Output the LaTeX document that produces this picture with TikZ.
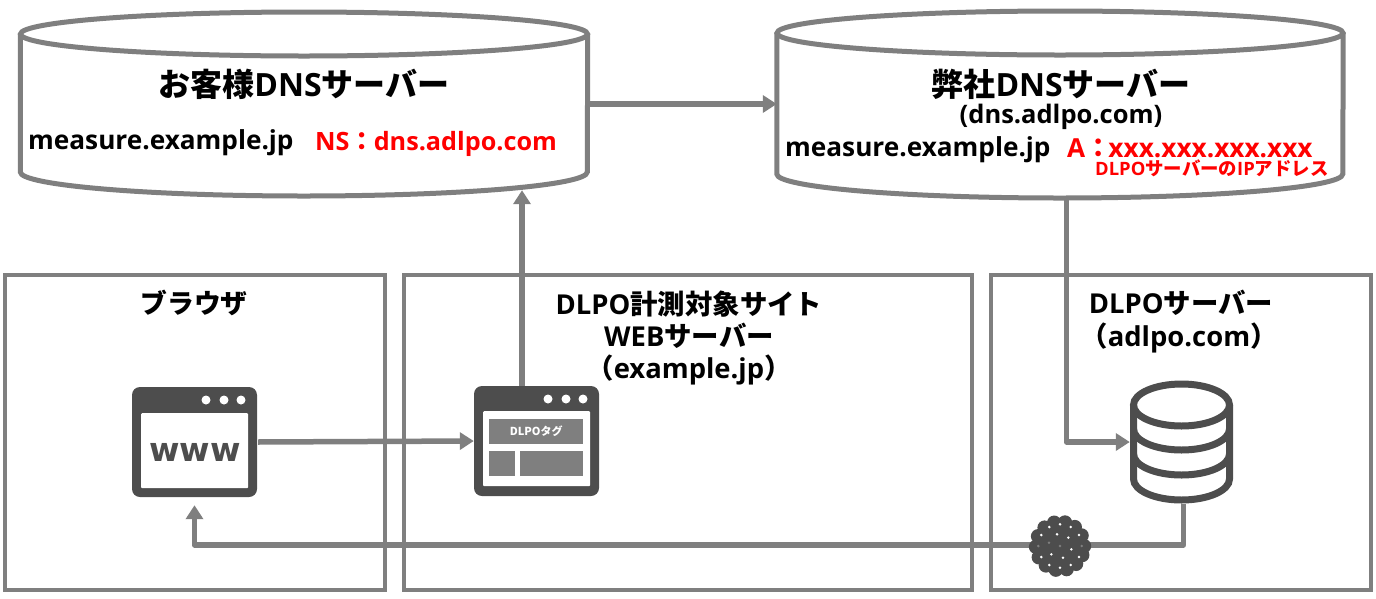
\documentclass[tikz,border=0pt]{standalone}
\usepackage{fontspec}
\setmainfont{Open Sans}
\newfontfamily\jpf{Noto Sans CJK JP}
\newfontfamily\djv{DejaVu Sans}
\usetikzlibrary{arrows.meta,calc}
\definecolor{line}{HTML}{7F7F7F}
\definecolor{dark}{HTML}{4D4D4D}
\definecolor{redtxt}{HTML}{FF0000}
\newcommand{\J}[1]{{\jpf\bfseries #1}}
\newcommand{\fs}[1]{\fontsize{#1}{#1}\selectfont\bfseries}
\tikzset{
  x=1pt,y=-1pt,
  conn/.style={draw=line,line width=5.5pt,line join=round},
  arr/.style={conn,-{Triangle[length=14pt,width=17pt]}},
  boxn/.style={draw=line,line width=4pt,inner sep=0pt,anchor=north west},
  win/.style={fill=dark,rounded corners=8pt,inner sep=0pt,minimum width=125pt,minimum height=110pt},
  pane/.style={fill=white,inner sep=0pt,rounded corners=1pt,anchor=north west},
  wdot/.style={circle,fill=white,inner sep=0pt,minimum size=9pt},
  band/.style={fill=line,inner sep=0pt,anchor=north west},
  cyl/.style={draw=line,line width=5pt,fill=white},
  txt/.style={inner sep=0pt,anchor=base,text=black},
  txtl/.style={inner sep=0pt,anchor=base west,text=black},
  red/.style={text=redtxt},
}
\begin{document}
\begin{tikzpicture}
\useasboundingbox (0,0) rectangle (1376,598);
% outer boxes
\node[boxn,minimum width=380pt,minimum height=315pt] (bBrowser) at (3,273) {};
\node[boxn,minimum width=568pt,minimum height=315pt] (bWeb) at (402,273) {};
\node[boxn,minimum width=380pt,minimum height=315pt] (bDlpo) at (989,273) {};
% cylinders
\node[inner sep=0pt,minimum width=567pt,minimum height=185pt] (dnsA) at (304,104) {};
\node[inner sep=0pt,minimum width=566pt,minimum height=188pt] (dnsB) at (1060,104) {};
\draw[cyl] (dnsA.west |- 0,34) -- (dnsA.west |- 0,172) arc[start angle=180,end angle=360,x radius=283.5pt,y radius=24pt] -- (dnsA.east |- 0,34);
\draw[cyl] (304,34) ellipse[x radius=283.5pt,y radius=22pt];
\draw[cyl] (dnsB.west |- 0,33) -- (dnsB.west |- 0,174) arc[start angle=180,end angle=360,x radius=283pt,y radius=24pt] -- (dnsB.east |- 0,33);
\draw[cyl] (1060,33) ellipse[x radius=283pt,y radius=22pt];
% browser window
\node[win] (www) at (194.5,442) {};
\node[pane,minimum width=107pt,minimum height=75pt] (wwwPane) at (141,413) {};
\foreach \i/\x in {a/206,b/224,c/241} \node[wdot] (wd\i) at (\x,400) {};
\node[inner sep=0pt,text=dark,anchor=base] (wwwText) at (195,461) {\djv\fs{33}www};
% tag window
\node[win] (tagwin) at (536.5,441) {};
\node[pane,minimum width=107pt,minimum height=75pt] (tagPane) at (483,411) {};
\foreach \i/\x in {a/548,b/566,c/583} \node[wdot] (td\i) at (\x,399) {};
\node[band,minimum width=94pt,minimum height=25pt,text=white] (tagBand) at (489,419) {\J{\fontsize{11}{11}\selectfont DLPOタグ}};
\node[band,minimum width=26pt,minimum height=25pt] (tagL) at (489,451) {};
\node[band,minimum width=63pt,minimum height=25pt] (tagR) at (520,451) {};
% database
\node[inner sep=0pt,minimum width=103pt,minimum height=124pt] (db) at (1181.5,442) {};
\begin{scope}[draw=dark,line width=7pt]
\fill[white] (1133.5,405) -- (1133.5,479) arc[start angle=180,end angle=360,x radius=48pt,y radius=21pt] -- (1229.5,405) -- cycle;
\draw (1133.5,405) -- (1133.5,479) arc[start angle=180,end angle=360,x radius=48pt,y radius=21pt] -- (1229.5,405);
\draw (1181.5,405) ellipse[x radius=48pt,y radius=21pt];
\draw (1133.5,429) arc[start angle=180,end angle=360,x radius=48pt,y radius=21pt];
\draw (1133.5,454) arc[start angle=180,end angle=360,x radius=48pt,y radius=21pt];
\end{scope}
% connectors
\coordinate (ballc) at (1060,545);
\draw[arr] (dnsA.east) -- (dnsB.west);
\draw[arr] ([xshift=-14.5pt]tagwin.north) -- ([xshift=-14.5pt,yshift=6.5pt]tagwin.north |- dnsA.south);
\draw[arr] ([xshift=6.5pt]dnsB.south) |- (db.west);
\draw[arr,shorten <=1pt] (www.east) -- (tagwin.west);
\draw[arr,shorten >=8pt] ([xshift=2pt]db.south) |- (ballc) -| (www.south);
% ball
\node[circle,fill=dark,inner sep=0pt,minimum size=54pt] (ball) at (1060,546) {};
\foreach \a in {0,26,...,340} \fill[dark] (ball) ++(\a:24pt) circle[radius=7.2pt];
\foreach \X/\Y/\c in {147/470/white,179/462/white,211/470/white,123/494/white,170/492/white,204/502/white,236/494/white,114/527/line,146/517/line,179/527/line,213/537/white,244/527/line,123/560/white,153/552/white,188/562/white,236/560/white,147/584/white,179/592/white,211/584/white}
  \fill[\c] (ball) ++({(\X-179)/3},{(\Y-527)/3}) circle[radius=1.4pt];
% texts
\node[txt] (t1) at (304,96) {\fs{32}\J{お客様}DNS\J{サーバー}};
\node[txtl] (t2) at (28,149) {\fs{26.2}measure.example.jp};
\node[txtl,red] (t3) at (315,150) {\fs{25.2}NS\J{：}\kern-1pt dns.adlpo.com};
\node[txt] (t4) at (1061,96) {\fs{32}\J{弊社}DNS\J{サーバー}};
\node[txt] (t5) at (1061,123) {\fs{25.5}(dns.adlpo.com)};
\node[txtl] (t6) at (785,156) {\fs{26.2}measure.example.jp};
\node[txtl,red] (t7) at (1067,157) {\fs{26.2}A\J{：}\kern-3pt xxx.xxx.xxx.xxx};
\node[txtl,red] (t8) at (1095,175) {\fs{18.4}DLPO\J{サーバーの}IP\J{アドレス}};
\node[txt] (t9) at (194,313) {\fs{26.8}\J{ブラウザ}};
\node[txt] (t10) at (689,314) {\fs{27.4}DLPO\J{計測対象サイト}};
\node[txt] (t11) at (689,346) {\fs{27.4}WEB\J{サーバー}};
\node[txt] (t12) at (689,378) {\fs{27.4}\J{（}example.jp\J{）}};
\node[txt] (t13) at (1181,313) {\fs{27.4}DLPO\J{サーバー}};
\node[txt] (t14) at (1179,346) {\fs{27.4}\J{（}adlpo.com\J{）}};
\end{tikzpicture}
\end{document}
